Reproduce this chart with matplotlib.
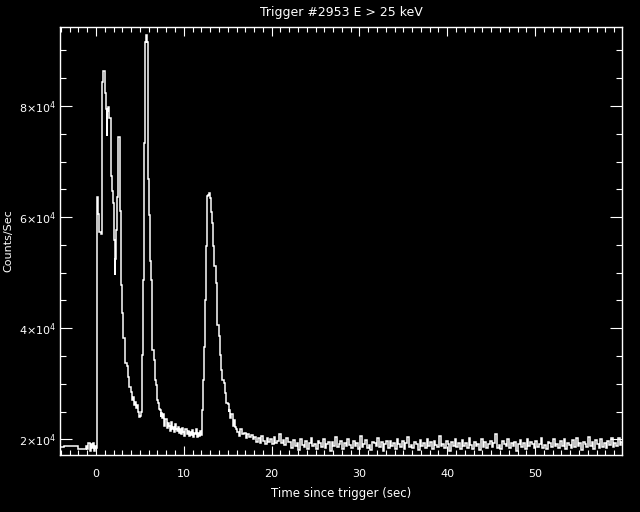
import numpy as np
import matplotlib
matplotlib.use("Agg")
from matplotlib import pyplot as plt
from matplotlib.ticker import MultipleLocator, FixedLocator

plt.rcParams['font.family'] = ['Liberation Sans Narrow', 'DejaVu Sans']

# pre-trigger background (1 s bins, then finer)
pre_edges = [-4.1, -3.6, -2.0, -1.1, -0.98, -0.86, -0.74, -0.62, -0.50,
             -0.38, -0.26, -0.14, -0.02, 0.08]
pre_counts = [18650, 18850, 18350, 18900, 18200, 19400, 18000, 19100,
              18500, 19300, 17900, 18800, 18400]

# burst: first pulse complex, second spike, decay
burst_edges = [0.08, 0.15, 0.27, 0.38, 0.52, 0.65, 0.72, 0.83, 0.99, 1.10,
               1.22, 1.28, 1.41, 1.52, 1.67, 1.82, 1.98, 2.09, 2.17, 2.22,
               2.32, 2.43, 2.54, 2.70, 2.81, 2.96, 3.11, 3.27, 3.34, 3.50,
               3.69, 3.80, 3.95, 4.07, 4.18, 4.30, 4.41, 4.52, 4.64, 4.75,
               4.87, 4.98, 5.09, 5.21, 5.28, 5.40, 5.47, 5.59, 5.70, 5.82,
               5.88, 5.96, 6.08, 6.19, 6.27, 6.42, 6.58, 6.70, 6.85, 6.95,
               7.10, 7.18, 7.25, 7.35, 7.45, 7.55, 7.67, 7.79, 7.91, 8.03,
               8.15, 8.27]
burst_counts = [55600, 63600, 60600, 57400, 57000, 68000, 84300, 86200, 82400,
                79400, 74600, 79100, 79800, 77900, 67400, 64650, 62600, 55950,
                49640, 52500, 57750, 63700, 74500, 61050, 47840, 42800, 38300,
                36670, 33790, 33250, 31270, 29460, 28560, 27120, 27660, 26220,
                26760, 25680, 26220, 24960, 24050, 24230, 24960, 25680, 35230,
                48740, 73250, 91500, 92700, 91500, 83900, 66940, 60450, 52040,
                48700, 36130, 34300, 30720, 29820, 27120, 26500, 25500, 25300,
                24000, 24800, 23800, 24500, 22500, 23700, 22000, 23000]

# inter-pulse level, 0.12 s bins from 8.27 s
gap_start = 8.27
gap_width = 0.12
gap_counts = [22400, 21600, 23100, 21900, 22200, 21300, 22700, 21800, 21500, 22300,
              21200, 21900, 20900, 22100, 21400, 20700, 21800, 21000, 21600, 20600,
              21300, 20800, 21700, 20500, 21200, 20900, 21900, 20400, 21100, 20600,
              21500, 20800]

# third pulse
pulse3_edges = [12.11, 12.24, 12.35, 12.46, 12.58, 12.69, 12.80, 12.92, 13.03,
                13.15, 13.26, 13.37, 13.49, 13.64, 13.80, 13.95, 14.10, 14.25,
                14.40, 14.55, 14.71, 14.86, 15.01, 15.09, 15.17, 15.27, 15.37,
                15.47, 15.59, 15.71, 15.83, 15.95, 16.04]
pulse3_counts = [25300, 30700, 36700, 45140, 54740, 63750, 64060, 64370, 63460,
                 61000, 59010, 54740, 51140, 48140, 40630, 38520, 35230, 32520,
                 30720, 30130, 28320, 26520, 26300, 25000, 25300, 23800, 24600,
                 24500, 22500, 23500, 22200, 21800]

# tail, 0.2 s bins from 16.04 s
tail_start = 16.04
tail_width = 0.2
tail_counts = [
    21400, 20600, 21800, 20900, 21200, 20300, 21000, 20500, 20800, 20100,
    20400, 19500, 20200, 19300, 20600, 19700, 19200, 20300, 19600, 20000,
    19100, 20500, 19400, 19800, 20900, 19300, 19900, 19000, 20200, 19500,
    19600, 18400, 19900, 18900, 19300, 18100, 20100, 19000, 18600, 19700, 18300, 19400, 20300, 18800, 19100, 18200, 19800, 19300, 18700,
    20000, 18500, 19200, 19600, 18000, 19500, 18900, 20400, 18600, 19100, 19800, 18300, 19300, 18800, 20100, 19000, 18400, 19700, 18900,
    19400, 18200, 20600, 18700, 19200, 19900, 18500, 19000, 18100, 19600, 19300, 18800, 20200, 18600, 19500, 18000, 19100, 19800, 18400,
    19700, 18900, 19300, 18300, 20000, 19100, 18600, 19800, 18200, 19400, 20500, 18700, 19000, 18400, 19600, 19200, 18100, 19900, 18800,
    19300, 18500, 20100, 18900, 19500, 18300, 19800, 19000, 18600, 20700, 18800, 19200, 18400, 19700, 19100, 18000, 19500, 18900, 20000,
    18700, 19300, 18200, 19900, 18800, 19400, 18500, 20200, 19000, 18300, 19600, 18900, 19200, 18100, 20000, 18700, 19500, 18400, 19100,
    19800, 18600, 19300, 20900, 18500, 19000, 18200, 19700, 19100, 18800, 20100, 18400, 19400, 18900, 19600, 18000, 19200, 19900, 18600,
    19400, 18300, 20000, 18800, 19500, 19100, 18400, 19800, 18700, 19200, 20300, 18500, 19000, 18200, 19600, 19300, 18600, 20100, 18900,
    19100, 18400, 19700, 18800, 20000, 18300, 19400, 19000, 18500, 19900, 18700, 20200, 18900, 19300, 18100, 19600, 19200, 18600, 20400,
    18800, 19500, 18300, 19900, 19100, 18500, 20100, 18700, 19300, 18400, 19800, 19000, 20300, 18600, 19400, 18800, 20200, 19000, 19500,
]

gap_edges = gap_start + gap_width * np.arange(len(gap_counts) + 1)
tail_edges = tail_start + tail_width * np.arange(len(tail_counts) + 1)

edges = np.concatenate([pre_edges, burst_edges[1:], gap_edges[1:], pulse3_edges[1:], tail_edges[1:]])
counts = np.concatenate([pre_counts, burst_counts, gap_counts, pulse3_counts, tail_counts])

fig = plt.figure(figsize=(6.4, 5.12), dpi=100, facecolor='black')
ax = fig.add_axes([60 / 640, 1 - 455 / 512, 562 / 640, 428 / 512], facecolor='black')
ax.stairs(counts, edges, baseline=None, color='white', lw=1.1)

ax.set_xlim(-4.1, 59.9)
ax.set_ylim(17200, 94200)

ax.xaxis.set_major_locator(MultipleLocator(10))
ax.xaxis.set_minor_locator(MultipleLocator(1))
ax.yaxis.set_major_locator(FixedLocator([20000, 40000, 60000, 80000]))
ax.yaxis.set_minor_locator(MultipleLocator(5000))
ax.set_yticklabels(['2×10$^4$', '4×10$^4$', '6×10$^4$', '8×10$^4$'])

for s in ax.spines.values():
    s.set_color('white')
    s.set_linewidth(1.0)
ax.tick_params(which='both', direction='in', colors='white', top=True, right=True,
               labelsize=8, width=0.8)
ax.tick_params(axis='x', which='major', length=6.5, pad=10)
ax.tick_params(axis='x', which='minor', length=3.3)
ax.tick_params(axis='y', which='major', length=8.6, pad=3)
ax.tick_params(axis='y', which='minor', length=4.3)

ax.set_title('Trigger #2953 E > 25 keV', color='white', fontsize=9, pad=8)
ax.set_xlabel('Time since trigger (sec)', color='white', fontsize=8.5, labelpad=6)
ax.set_ylabel('Counts/Sec', color='white', fontsize=8, labelpad=4)

fig.savefig('out.png', dpi=100, facecolor='black')
